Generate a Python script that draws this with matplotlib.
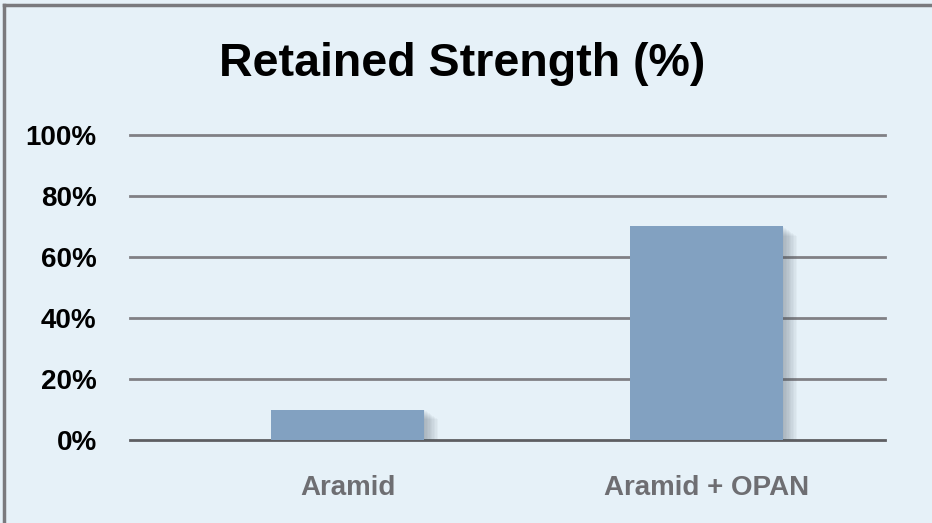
import matplotlib.pyplot as plt
import matplotlib.patheffects as pe
from matplotlib.lines import Line2D

# chart data
categories = ["Aramid", "Aramid + OPAN"]
retained = [10, 70]
yticks = [0, 20, 40, 60, 80, 100]
ytick_labels = ["0%", "20%", "40%", "60%", "80%", "100%"]

plt.rcParams['font.family'] = ['Liberation Sans', 'DejaVu Sans']

bg = '#E6F1F8'
fig = plt.figure(figsize=(9.32, 5.23), dpi=100, facecolor=bg)
ax = fig.add_axes([130 / 932, 1 - 440 / 523, 755 / 932, 305 / 523])
ax.set_facecolor(bg)

# gridlines drawn by hand so they sit behind the bars
for y in yticks:
    col = '#5E5E62' if y == 0 else '#808085'
    ax.axhline(y, color=col, lw=2, zorder=1, clip_on=False)

# fake blurred drop shadow with a few stacked soft shadows
shadow = [pe.SimplePatchShadow(offset=(d, -d * 0.7), shadow_rgbFace='#4A5560', alpha=0.045)
          for d in (1, 2, 3, 4, 5, 6, 7, 8, 9, 10)]
bars = ax.bar(range(len(categories)), retained, width=0.426, color='#82A1C1', zorder=3)
for b in bars:
    b.set_path_effects(shadow + [pe.Normal()])

ax.set_xlim(-0.606, 1.497)
ax.set_ylim(0, 100)
ax.set_yticks(yticks)
ax.set_yticklabels(ytick_labels, fontsize=20, fontweight='bold', color='black')
ax.set_xticks(range(len(categories)))
ax.set_xticklabels(categories, fontsize=20, fontweight='bold', color='#6E6E72')
ax.tick_params(axis='y', length=0, pad=24)
ax.tick_params(axis='x', length=0, pad=25)
for s in ax.spines.values():
    s.set_visible(False)

fig.text(462 / 932, 1 - 64 / 523, "Retained Strength (%)", fontsize=33.5, fontweight='bold',
         ha='center', va='center', color='black')

# outer frame (top and left edges visible)
fig.add_artist(Line2D([4 / 932, 4 / 932], [0, 1 - 5 / 523], transform=fig.transFigure,
                      color='#7A7A7E', lw=2.5))
fig.add_artist(Line2D([4 / 932, 1], [1 - 5 / 523, 1 - 5 / 523], transform=fig.transFigure,
                      color='#7A7A7E', lw=2.5))

fig.savefig('out.png', dpi=100, facecolor=bg)
